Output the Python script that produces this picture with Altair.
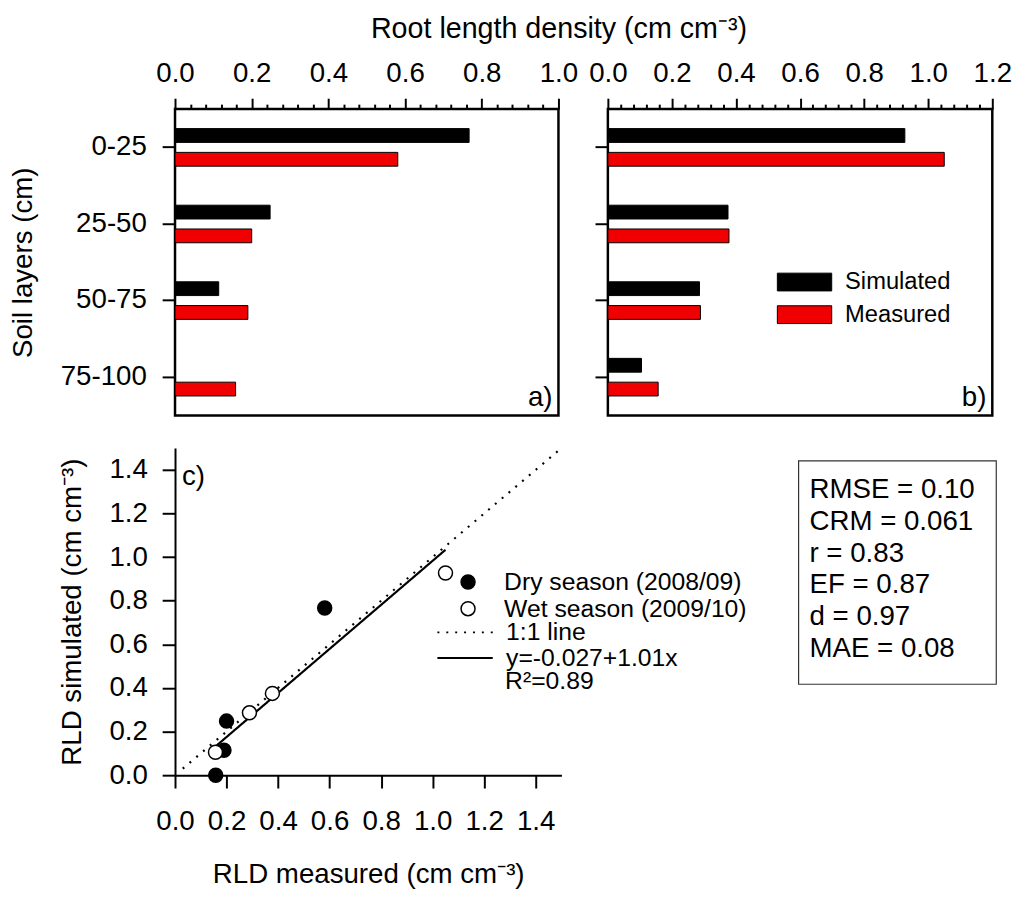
import altair as alt
import pandas as pd

FONT = "Liberation Sans"

# ---------------- data ----------------
layers = ["0-25", "25-50", "50-75", "75-100"]
series = ["Simulated", "Measured"]
series_colors = ["#000000", "#f00000"]

# panel a) dry season 2008/09
dry_sim = [0.767, 0.248, 0.114, 0.0]
dry_meas = [0.581, 0.200, 0.190, 0.158]
# panel b) wet season 2009/10
wet_sim = [0.927, 0.375, 0.286, 0.105]
wet_meas = [1.050, 0.378, 0.289, 0.157]

seasons = ["Dry season (2008/09)", "Wet season (2009/10)"]
season_fills = ["black", "white"]
line_names = ["1:1 line", "y=-0.027+1.01x"]
fit_intercept = -0.027
fit_slope = 1.01
fit_r2_label = "R²=0.89"
one_to_one = [0.03, 1.5]

stat_names = ["RMSE", "CRM", "r", "EF", "d", "MAE"]
stat_values = ["0.10", "0.061", "0.83", "0.87", "0.97", "0.08"]

c_ticks = [0.0, 0.2, 0.4, 0.6, 0.8, 1.0, 1.2, 1.4]

UNIT = "(cm cm⁻³)"
TICK_FS = 28


# ---------------- bar panels ----------------
def bar_panel(sim, meas, xmax, panel_label, first, width):
    df = pd.DataFrame({
        "layer": layers + layers,
        "series": [series[0]] * len(layers) + [series[1]] * len(layers),
        "value": sim + meas,
    })
    n = int(round(xmax / 0.04))
    tick_vals = [round(i * 0.04, 2) for i in range(n + 1)]
    major = "abs(datum.value * 5 - round(datum.value * 5)) < 0.001"
    axis_kw = dict(
        orient="top", values=tick_vals, domain=False, grid=False,
        tickSize={"condition": {"test": major, "value": 11}, "value": 5},
        tickWidth=2, tickColor="black",
        labelExpr=f"{major} ? format(datum.value, '.1f') : ''",
        labelFontSize=TICK_FS, labelPadding=11, labelOverlap=False, labelFlush=False,
    )
    if first:
        x_axis = alt.Axis(title="Root length density " + UNIT, titleX=388,
                          titleFontSize=29, titleFontWeight="normal", titlePadding=16,
                          **axis_kw)
        y_axis = alt.Axis(title="Soil layers (cm)", domain=False, tickSize=13, tickWidth=2,
                          labelFontSize=TICK_FS, labelPadding=16, titleFontSize=TICK_FS,
                          titlePadding=23, titleFontWeight="normal")
        legend = None
    else:
        x_axis = alt.Axis(title=None, **axis_kw)
        y_axis = alt.Axis(title=None, labels=False, domain=False, tickSize=13, tickWidth=2)
        legend = alt.Legend(
            title=None, orient="none", legendX=187, legendY=163,
            symbolType="M-2.75,-0.9H2.75V0.9H-2.75Z", symbolSize=400,
            symbolStrokeColor="black", symbolStrokeWidth=1, symbolOpacity=1,
            labelFontSize=24, labelOffset=29, rowPadding=9, padding=0, labelLimit=400,
        )
    bars = alt.Chart(df).mark_bar(stroke="black", strokeWidth=1, opacity=1).encode(
        x=alt.X("value:Q", scale=alt.Scale(domain=[0, xmax], nice=False), axis=x_axis),
        y=alt.Y("layer:N", sort=layers, scale=alt.Scale(paddingInner=0, paddingOuter=0), axis=y_axis),
        yOffset=alt.YOffset("series:N", sort=series,
                            scale=alt.Scale(paddingInner=0.42, paddingOuter=0.82)),
        color=alt.Color("series:N", sort=series,
                        scale=alt.Scale(domain=series, range=series_colors), legend=legend),
    )
    lab = alt.Chart(pd.DataFrame({"t": [panel_label]})).mark_text(
        align="right", baseline="middle", fontSize=TICK_FS, color="black"
    ).encode(text="t:N", x=alt.value(width - 6), y=alt.value(292))
    return alt.layer(bars, lab).properties(
        width=width, height=310,
        view=alt.ViewBackground(stroke="black", strokeWidth=2.5),
    )


panel_a = bar_panel(dry_sim, dry_meas, 1.0, "a)", True, 388)
panel_b = bar_panel(wet_sim, wet_meas, 1.2, "b)", False, 389)

# ---------------- scatter panel ----------------
pts = pd.DataFrame({
    "measured": dry_meas + wet_meas,
    "simulated": dry_sim + wet_sim,
    "season": [seasons[0]] * len(dry_meas) + [seasons[1]] * len(wet_meas),
})
x_lo = min(dry_meas + wet_meas)
x_hi = max(dry_meas + wet_meas)
lines = pd.DataFrame({
    "line": [line_names[0]] * 2 + [line_names[1]] * 2,
    "measured": one_to_one + [x_lo, x_hi],
    "simulated": one_to_one + [fit_intercept + fit_slope * x_lo, fit_intercept + fit_slope * x_hi],
})

X = alt.X("measured:Q", scale=alt.Scale(domain=[0, 1.5], nice=False),
          axis=alt.Axis(values=c_ticks, format=".1f", tickSize=13, tickWidth=2,
                        domainWidth=2, domainColor="black", grid=False,
                        labelFontSize=TICK_FS, labelPadding=20, labelOverlap=False, labelFlush=False,
                        title="RLD measured " + UNIT, titleFontSize=TICK_FS,
                        titleFontWeight="normal", titlePadding=26))
Y = alt.Y("simulated:Q", scale=alt.Scale(domain=[0, 1.5], nice=False),
          axis=alt.Axis(values=c_ticks, format=".1f", tickSize=13, tickWidth=2,
                        domainWidth=2, domainColor="black", grid=False,
                        labelFontSize=TICK_FS, labelPadding=15, labelOverlap=False, labelFlush=False,
                        title="RLD simulated " + UNIT, titleFontSize=TICK_FS,
                        titleFontWeight="normal", titlePadding=23))

line_layer = alt.Chart(lines).mark_line(color="black", strokeWidth=2.2).encode(
    x=X, y=Y,
    strokeDash=alt.StrokeDash(
        "line:N", sort=line_names,
        scale=alt.Scale(domain=line_names, range=[[2, 7], [1, 0]]),
        legend=alt.Legend(title=None, orient="none", legendX=281, legendY=174,
                          symbolType="M-2.8,0H2.8", symbolSize=400, symbolStrokeWidth=2,
                          symbolStrokeColor="black", labelFontSize=25, labelOffset=29,
                          rowPadding=0, padding=0, labelLimit=400),
    ),
)
point_layer = alt.Chart(pts).mark_point(
    filled=True, size=200, stroke="black", strokeWidth=1.5, opacity=1, shape="circle"
).encode(
    x=X, y=Y,
    fill=alt.Fill("season:N", sort=seasons,
                  scale=alt.Scale(domain=seasons, range=season_fills),
                  legend=alt.Legend(title=None, orient="none", legendX=284, legendY=123,
                                    symbolType="circle", symbolSize=200,
                                    symbolStrokeColor="black", symbolStrokeWidth=1.5,
                                    symbolOpacity=1, labelFontSize=25, labelOffset=24,
                                    rowPadding=1, padding=0, labelLimit=400)),
)
c_label = alt.Chart(pd.DataFrame({"t": ["c)"]})).mark_text(
    align="left", baseline="middle", fontSize=TICK_FS, color="black"
).encode(text="t:N", x=alt.value(7), y=alt.value(29))
r2_label = alt.Chart(pd.DataFrame({"t": [fit_r2_label]})).mark_text(
    align="left", baseline="middle", fontSize=25, color="black"
).encode(text="t:N", x=alt.value(334), y=alt.value(236))

panel_c = alt.layer(line_layer, point_layer, c_label, r2_label).properties(
    width=391, height=331,
    view=alt.ViewBackground(stroke="transparent"),
)

# ---------------- statistics box ----------------
stats_text = "\n".join(f"{n} = {v}" for n, v in zip(stat_names, stat_values))
box_df = pd.DataFrame({"t": [stats_text]})
box_frame = alt.Chart(box_df).mark_rect(
    fill="white", stroke="#333333", strokeWidth=1.2
).encode(x=alt.value(193), x2=alt.value(393), y=alt.value(13), y2=alt.value(239))
box_text = alt.Chart(box_df).mark_text(
    align="left", baseline="alphabetic", fontSize=28, lineBreak="\n", lineHeight=32,
    color="black"
).encode(text="t:N", x=alt.value(204), y=alt.value(51))
stats_box = alt.layer(box_frame, box_text).properties(
    width=389, height=331, view=alt.ViewBackground(stroke="transparent")
)

# ---------------- assemble ----------------
chart = alt.concat(
    panel_a, panel_b, panel_c, stats_box, columns=2,
    spacing={"row": 33, "column": 47}, bounds="flush",
).resolve_legend(
    color="independent", fill="independent", strokeDash="independent"
).configure(
    font=FONT, padding={"top": 0, "left": 0, "right": 5, "bottom": 5}
).configure_view(stroke="transparent").configure_axis(
    labelColor="black", titleColor="black", tickColor="black", domainColor="black",
    labelFont=FONT, titleFont=FONT,
).configure_legend(labelColor="black", labelFont=FONT).configure_text(font=FONT)

chart.save("out.html", embed_options={"renderer": "svg", "actions": False})
